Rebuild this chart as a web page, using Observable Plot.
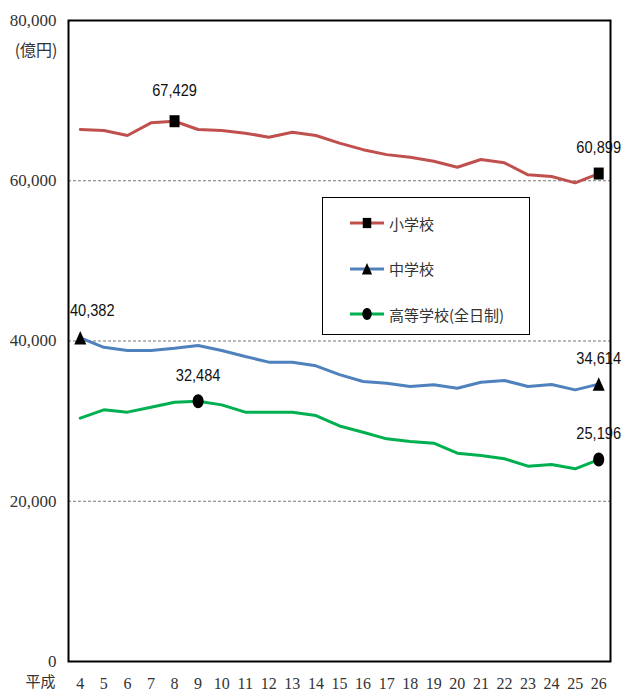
<!DOCTYPE html>
<html><head><meta charset="utf-8">
<script src="https://cdn.jsdelivr.net/npm/d3@7"></script>
<script src="https://cdn.jsdelivr.net/npm/@observablehq/plot@0.6"></script>
<style>
body{margin:0;background:#fff;}
#wrap{position:relative;width:630px;height:693px;overflow:hidden;background:#fff;}
#wrap svg text{font-family:"Liberation Serif","DejaVu Serif",serif;}
#wrap svg text.ann{font-family:"Liberation Sans",Arial,sans-serif;}
#wrap svg text.cjk{font-family:"Noto Sans CJK JP",sans-serif;}
#legend{position:absolute;left:322px;top:197px;width:208px;height:138px;border:1.5px solid #000;background:#fff;box-sizing:border-box;}
.entry{position:absolute;left:26px;height:20px;display:flex;align-items:center;font-family:"Noto Sans CJK JP",sans-serif;font-size:15px;color:#333;}
.entry svg{margin-right:4px;}
</style>
</head><body>
<div id="wrap"></div>
<script>
const years = [4,5,6,7,8,9,10,11,12,13,14,15,16,17,18,19,20,21,22,23,24,25,26];
const elementary = [66400,66270,65650,67230,67429,66400,66270,65940,65440,66060,65650,64700,63880,63260,62930,62440,61690,62650,62240,60740,60530,59740,60899];
const juniorHigh = [40382,39210,38815,38815,39100,39440,38815,38066,37360,37360,36900,35800,34945,34740,34320,34530,34110,34860,35070,34320,34570,33900,34614];
const highSchool = [30370,31410,31120,31740,32360,32484,32030,31120,31120,31120,30700,29400,28620,27790,27460,27250,26000,25710,25300,24380,24590,24050,25196];
const seriesNames = ["小学校","中学校","高等学校(全日制)"];
const seriesColors = ["#C0504D","#4F81BD","#00B050"];
const yTicks = [0,20000,40000,60000,80000];
const gridTicks = [20000,40000,60000];
const yUnit = "(億円)";
const xPrefix = "平成";
// highlighted points: series index, year
const markSeries = [0,0,1,1,2,2];
const markYears = [8,26,4,26,9,26];

const seriesValues = [elementary, juniorHigh, highSchool];
const rows = [];
seriesValues.forEach((vals, s) => vals.forEach((v, i) => rows.push({s, year: years[i], value: v})));
const marks = markSeries.map((s, k) => {
  const i = years.indexOf(markYears[k]);
  return {s, year: markYears[k], value: seriesValues[s][i]};
});

// custom marker symbols
const squareSym = {draw(c){ c.rect(-5,-6,10,12); }};
const triSym = {draw(c){ c.moveTo(0,-7); c.lineTo(6,6.5); c.lineTo(-6,6.5); c.closePath(); }};
const ellSym = {draw(c){ const rx=5.5, ry=7, k=0.5523;
  c.moveTo(rx,0);
  c.bezierCurveTo(rx, ry*k, rx*k, ry, 0, ry);
  c.bezierCurveTo(-rx*k, ry, -rx, ry*k, -rx, 0);
  c.bezierCurveTo(-rx, -ry*k, -rx*k, -ry, 0, -ry);
  c.bezierCurveTo(rx*k, -ry, rx, -ry*k, rx, 0);
  c.closePath(); }};
const symbols = [squareSym, triSym, ellSym];

const fmt = d3.format(",");
const isFirst = d => d.year === 4;
const isPeak = d => d.year === 8;

const chart = Plot.plot({
  width: 630, height: 693,
  marginLeft: 68, marginRight: 20, marginTop: 20, marginBottom: 32,
  x: {domain: [3.5, 26.5]},
  y: {domain: [0, 80000]},
  marks: [
    Plot.ruleY(gridTicks, {stroke: "#777", strokeDasharray: "3,2", strokeWidth: 1}),
    Plot.axisY({ticks: yTicks, tickSize: 0, tickPadding: 12, tickFormat: fmt, fontSize: 17, fontFamily: "Liberation Serif", color: "#333", label: null}),
    Plot.axisX({ticks: years, tickSize: 0, tickPadding: 16, fontSize: 16, fontFamily: "Liberation Serif", color: "#333", label: null}),
    Plot.text([yUnit], {frameAnchor: "top-left", dx: -11, dy: 24, textAnchor: "end", fontSize: 16, fill: "#333"}),
    Plot.text([xPrefix], {frameAnchor: "bottom-left", dx: -13, dy: 25, textAnchor: "end", fontSize: 15, fill: "#333"}),
    ...seriesValues.map((vals, s) => Plot.line(rows.filter(d => d.s === s), {x: "year", y: "value", stroke: seriesColors[s], strokeWidth: 3, strokeLinejoin: "miter"})),
    Plot.frame({stroke: "#000", strokeWidth: 2}),
    ...[0,1,2].map(s => Plot.dot(marks.filter(d => d.s === s), {x: "year", y: "value", symbol: symbols[s], fill: "#000", stroke: "none"})),
    Plot.text(marks.filter(d => !isFirst(d) && !isPeak(d)), {x: "year", y: "value", text: d => fmt(d.value), dy: -26, fontSize: 17, fill: "#111"}),
    Plot.text(marks.filter(isPeak), {x: "year", y: "value", text: d => fmt(d.value), dy: -31, fontSize: 17, fill: "#111"}),
    Plot.text(marks.filter(isFirst), {x: "year", y: "value", text: d => fmt(d.value), dx: 12, dy: -27, fontSize: 17, fill: "#111"})
  ]
});
const sel = d3.select(chart);
sel.selectAll('g[aria-label="text"] text').each(function(){
  const t = this.textContent;
  if (/[0-9]/.test(t)) {
    d3.select(this).classed("ann", true)
      .attr("transform", this.getAttribute("transform") + " scale(0.86,1)");
  } else {
    d3.select(this).classed("cjk", true);
  }
});
document.getElementById("wrap").appendChild(chart);

// legend
const legend = document.createElement("div");
legend.id = "legend";
seriesNames.forEach((name, s) => {
  const e = document.createElement("div");
  e.className = "entry";
  e.style.top = (15 + s * 45.5) + "px";
  const svg = d3.create("svg").attr("width", 36).attr("height", 20);
  svg.append("line").attr("x1", 1).attr("x2", 35).attr("y1", 10).attr("y2", 10).attr("stroke", seriesColors[s]).attr("stroke-width", 3);
  const p = d3.path(); symbols[s].draw(p);
  svg.append("path").attr("d", p.toString()).attr("transform", "translate(18,10) scale(0.85)").attr("fill", "#000");
  e.appendChild(svg.node());
  const t = document.createElement("span"); t.textContent = name; e.appendChild(t);
  legend.appendChild(e);
});
document.getElementById("wrap").appendChild(legend);
</script>
</body></html>
